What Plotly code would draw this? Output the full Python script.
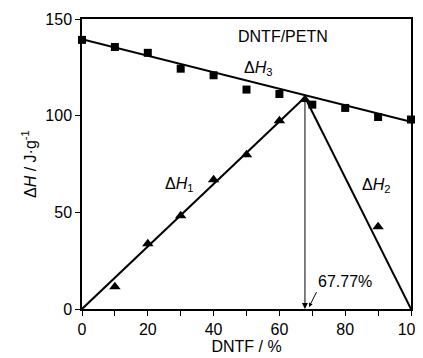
import plotly.graph_objects as go

# ΔH3 measured (squares)
x_sq = [0, 10, 20, 30, 40, 50, 60, 70, 80, 90, 100]
y_sq = [139.2, 135.5, 132.5, 124.3, 120.9, 113.5, 111.2, 105.7, 104.0, 99.3, 98.0]

# ΔH1 / ΔH2 measured (triangles)
x_tri = [10, 20, 30, 40, 50, 60, 67.77, 90]
y_tri = [11.5, 33.7, 48.2, 66.8, 79.8, 97.4, 108.3, 42.6]

# fitted lines
x_h3 = [0, 100]
y_h3 = [139.5, 96.8]
x_h1 = [0, 67.77]
y_h1 = [0, 109.5]
x_h2 = [67.77, 100]
y_h2 = [109.5, 0]

cross_x = 67.77
cross_y = 109.5

FONT = "Liberation Sans, Arial"

fig = go.Figure()
for xs, ys in [(x_h3, y_h3), (x_h1, y_h1), (x_h2, y_h2)]:
    fig.add_trace(go.Scatter(x=xs, y=ys, mode="lines",
                             line=dict(color="black", width=2),
                             showlegend=False, hoverinfo="skip"))
fig.add_trace(go.Scatter(x=x_sq, y=y_sq, mode="markers",
                         marker=dict(symbol="square", size=8, color="black"),
                         showlegend=False, cliponaxis=False))
fig.add_trace(go.Scatter(x=x_tri, y=y_tri, mode="markers",
                         marker=dict(symbol="triangle-up", size=10, color="black"),
                         showlegend=False))

# vertical arrow
fig.add_annotation(x=cross_x, y=0, ax=cross_x, ay=cross_y, xref="x", yref="y",
                   axref="x", ayref="y", showarrow=True, arrowhead=2,
                   arrowsize=1.2, arrowwidth=1, arrowcolor="black", text="")
# 67.77% label with arrow
fig.add_annotation(x=69.0, y=1, ax=71.5, ay=9.5, xref="x", yref="y",
                   axref="x", ayref="y", showarrow=True, arrowhead=2,
                   arrowsize=0.8, arrowwidth=1, arrowcolor="black", text="")
fig.add_annotation(x=71.0, y=14, xref="x", yref="y", text="67.77%",
                   showarrow=False, xanchor="left",
                   font=dict(family=FONT, size=16, color="black"))

labels = [
    (61, 141, "DNTF/PETN", "center"),
    (53.5, 124.5, "Δ<i>H</i><sub>3</sub>", "center"),
    (29.5, 64.5, "Δ<i>H</i><sub>1</sub>", "center"),
    (89.3, 64, "Δ<i>H</i><sub>2</sub>", "center"),
]
for x, y, t, anc in labels:
    fig.add_annotation(x=x, y=y, xref="x", yref="y", text=t, showarrow=False,
                       xanchor=anc, font=dict(family=FONT, size=16, color="black"))

# y-axis title placed as a rotated annotation for precise positioning
fig.add_annotation(x=0, y=0.5, xref="paper", yref="paper", xshift=-53,
                   text="Δ<i>H</i> / J·g<sup>-1</sup>", textangle=-90,
                   showarrow=False, xanchor="center", yanchor="middle",
                   font=dict(family=FONT, size=16, color="black"))

# page body has an 8px default margin, so the figure is 8px smaller
fig.update_layout(
    width=415, height=350,
    margin=dict(l=74, r=12, t=11, b=49),
    paper_bgcolor="white", plot_bgcolor="white",
    font=dict(family=FONT, size=16, color="black"),
    xaxis=dict(range=[0, 100], tickvals=[0, 20, 40, 60, 80, 100],
               automargin=False, ticklabeloverflow="allow",
               ticks="outside", ticklen=5, tickwidth=1.2, tickcolor="black",
               minor=dict(tickvals=[10, 30, 50, 70, 90], ticks="outside",
                          ticklen=5, tickwidth=1.2, tickcolor="black"),
               showline=True, linecolor="black", linewidth=1.5, mirror=True,
               showgrid=False, zeroline=False,
               title=dict(text="DNTF / %", standoff=0,
                          font=dict(family=FONT, size=16))),
    yaxis=dict(range=[0, 150], tickvals=[0, 50, 100, 150],
               automargin=False, ticklabeloverflow="allow",
               ticks="outside", ticklen=5, tickwidth=1.2, tickcolor="black",
               showline=True, linecolor="black", linewidth=1.5, mirror=True,
               showgrid=False, zeroline=False),
)

fig.write_html("out.html")
